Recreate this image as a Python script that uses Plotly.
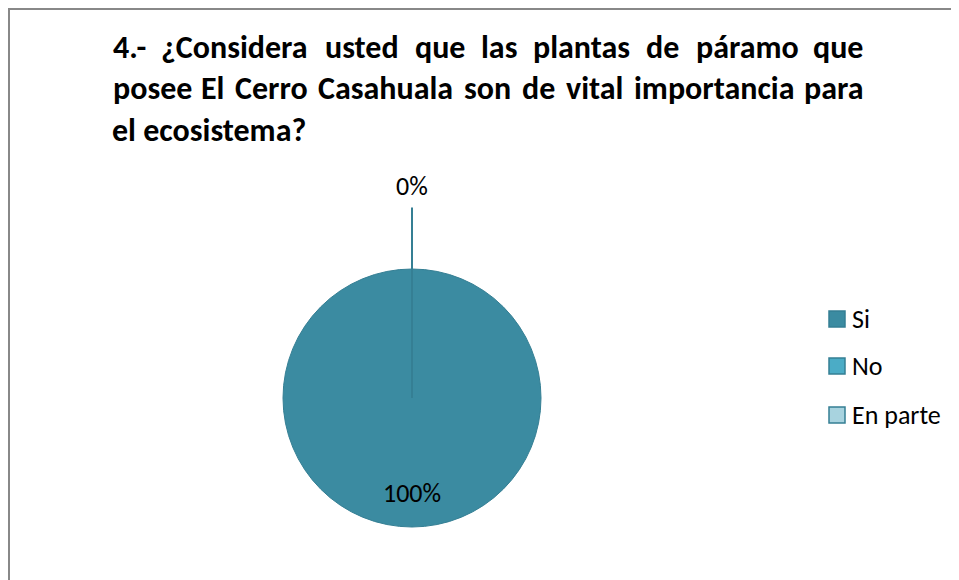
import math
import struct
import subprocess
import glob
import plotly.graph_objects as go

# ---- data ----
categories = ["Si", "No", "En parte"]
values = [100, 0, 0]
colors = ["#3B8BA1", "#4BACC6", "#A8D3DF"]
title_lines = [
    "4.- ¿Considera usted que las plantas de páramo que",
    "posee El Cerro Casahuala son de vital importancia para",
    "el ecosistema?",
]

# page offset (browser body margin) -> work in screenshot pixels
OFF = 8
W, H = 959 - OFF, 580 - OFF
def px(x):
    return (x - OFF) / W
def py(y):
    return (H - (y - OFF)) / H

# pie geometry (layout)
cx, cy, r = 412, 398, 129
FONT = "Carlito, Calibri, 'Liberation Sans Narrow', 'DejaVu Sans Condensed', 'Open Sans', sans-serif"
TITLE_SIZE = 32


# ---------- text measuring (for justified title lines) ----------
def find_font_file():
    try:
        out = subprocess.run(["fc-match", "-f", "%{file}", "Carlito:weight=bold"],
                             capture_output=True, text=True, timeout=5).stdout.strip()
        if out:
            return out
    except Exception:
        pass
    for pat in ["/usr/share/fonts/**/Carlito-Bold.ttf", "/usr/local/share/fonts/**/Carlito-Bold.ttf"]:
        hits = glob.glob(pat, recursive=True)
        if hits:
            return hits[0]
    return None


def load_metrics(path):
    data = open(path, "rb").read()
    if data[:4] == b"ttcf":
        first = struct.unpack(">I", data[12:16])[0]
        base = first
    else:
        base = 0
    num = struct.unpack(">H", data[base + 4:base + 6])[0]
    tables = {}
    for i in range(num):
        tag, _, off, ln = struct.unpack(">4sIII", data[base + 12 + 16 * i: base + 28 + 16 * i])
        tables[tag.decode("latin1")] = off
    upem = struct.unpack(">H", data[tables["head"] + 18: tables["head"] + 20])[0]
    nhm = struct.unpack(">H", data[tables["hhea"] + 34: tables["hhea"] + 36])[0]
    hm = tables["hmtx"]
    advs = [struct.unpack(">H", data[hm + 4 * i: hm + 4 * i + 2])[0] for i in range(nhm)]
    cm = tables["cmap"]
    ncm = struct.unpack(">H", data[cm + 2: cm + 4])[0]
    sub = None
    for i in range(ncm):
        pid, eid, off = struct.unpack(">HHI", data[cm + 4 + 8 * i: cm + 12 + 8 * i])
        fmt = struct.unpack(">H", data[cm + off: cm + off + 2])[0]
        if fmt == 4 and (pid, eid) in ((3, 1), (0, 3), (0, 4)):
            sub = cm + off
            break
    segx2 = struct.unpack(">H", data[sub + 6: sub + 8])[0]
    seg = segx2 // 2
    ends = struct.unpack(">%dH" % seg, data[sub + 14: sub + 14 + segx2])
    starts = struct.unpack(">%dH" % seg, data[sub + 16 + segx2: sub + 16 + 2 * segx2])
    deltas = struct.unpack(">%dh" % seg, data[sub + 16 + 2 * segx2: sub + 16 + 3 * segx2])
    rofs_pos = sub + 16 + 3 * segx2
    rofs = struct.unpack(">%dH" % seg, data[rofs_pos: rofs_pos + segx2])

    def gid(c):
        for i in range(seg):
            if ends[i] >= c:
                if starts[i] > c:
                    return 0
                if rofs[i] == 0:
                    return (c + deltas[i]) & 0xFFFF
                addr = rofs_pos + 2 * i + rofs[i] + 2 * (c - starts[i])
                g = struct.unpack(">H", data[addr: addr + 2])[0]
                return (g + deltas[i]) & 0xFFFF if g else 0
        return 0

    def width(text, size):
        tot = 0
        for ch in text:
            g = gid(ord(ch))
            tot += advs[min(g, len(advs) - 1)]
        return tot * size / upem

    return width


measure = None
try:
    ff = find_font_file()
    if ff:
        measure = load_metrics(ff)
except Exception:
    measure = None

word_extents_fallback = [
    [(111, 162), (175, 317), (332, 398), (413, 468), (482, 517), (531, 633), (648, 680), (696, 794), (809, 865)],
    [(111, 193), (206, 229), (243, 312), (326, 440), (454, 500), (514, 547), (559, 620), (633, 788), (802, 865)],
]
JUST_L, JUST_R = 111, 865

fig = go.Figure()
fig.add_trace(go.Pie(
    labels=categories, values=values, sort=False, direction="clockwise", rotation=0,
    marker=dict(colors=colors, line=dict(color="#357F94", width=1)),
    textinfo="none", showlegend=False, hoverinfo="label+percent",
    domain=dict(x=[px(cx - r), px(cx + r)], y=[py(cy + r), py(cy - r)]),
))

annotations = []
shapes = []

# data labels
total = sum(values)
cum = 0.0
done_zero = False
for cat, v in zip(categories, values):
    frac = v / total
    mid = (cum + frac / 2) * 2 * math.pi
    cum += frac
    label = f"{frac:.0%}"
    if v > 0:
        lx = cx + 0.74 * r * math.sin(mid)
        ly = cy - 0.74 * r * math.cos(mid)
        annotations.append(dict(x=px(lx), y=py(ly), xref="paper", yref="paper",
                                text=label, showarrow=False, xanchor="center", yanchor="middle",
                                font=dict(family=FONT, size=26, color="#000000")))
    elif not done_zero:
        done_zero = True
        annotations.append(dict(x=px(cx), y=py(cy), xref="paper", yref="paper",
                                text=label, showarrow=True, arrowhead=0,
                                arrowwidth=2, arrowcolor="#357F94",
                                ax=0, ay=-(cy - 186), startstandoff=4,
                                font=dict(family=FONT, size=26, color="#000000")))

# legend (manual, to match spacing)
leg_y = [319, 366, 415]
for cat, col, yy in zip(categories, colors, leg_y):
    shapes.append(dict(type="rect", xref="paper", yref="paper",
                       x0=px(829), x1=px(845), y0=py(yy + 8), y1=py(yy - 8),
                       fillcolor=col, line=dict(color="#357F94", width=1.5)))
    annotations.append(dict(x=px(850), y=py(yy), xref="paper", yref="paper",
                            text=cat, showarrow=False, xanchor="left", yanchor="middle",
                            font=dict(family=FONT, size=26, color="#000000")))

# title: first two lines justified, last line left-aligned
line_y = [48, 89, 130]
for i, line in enumerate(title_lines):
    words = line.split(" ")
    if i < 2:
        n = len(words)
        if measure is not None:
            ws = [measure(w, TITLE_SIZE) for w in words]
            gap = (JUST_R - JUST_L - sum(ws)) / (n - 1)
            xs = []
            x = JUST_L
            for wv in ws:
                xs.append((x, x + wv))
                x += wv + gap
        else:
            xs = word_extents_fallback[i]
        for j, (w, (a, b)) in enumerate(zip(words, xs)):
            if j == 0:
                x, anc = a, "left"
            elif j == n - 1:
                x, anc = b, "right"
            else:
                x, anc = (a + b) / 2, "center"
            annotations.append(dict(x=px(x), y=py(line_y[i]), xref="paper", yref="paper",
                                    text=f"<b>{w}</b>", showarrow=False, xanchor=anc, yanchor="middle",
                                    font=dict(family=FONT, size=TITLE_SIZE, color="#000000")))
    else:
        annotations.append(dict(x=px(JUST_L - 1), y=py(line_y[i]), xref="paper", yref="paper",
                                text=f"<b>{line}</b>", showarrow=False, xanchor="left", yanchor="middle",
                                font=dict(family=FONT, size=TITLE_SIZE, color="#000000")))

# chart border (left and top edges visible)
shapes.append(dict(type="line", xref="paper", yref="paper", x0=px(9), x1=px(9), y0=py(8), y1=py(H + 20),
                   line=dict(color="#888888", width=2)))
shapes.append(dict(type="line", xref="paper", yref="paper", x0=px(8), x1=px(W + 20), y0=py(9), y1=py(9),
                   line=dict(color="#888888", width=2)))

fig.update_layout(
    width=W, height=H, autosize=False,
    margin=dict(l=0, r=0, t=0, b=0),
    paper_bgcolor="#FFFFFF", plot_bgcolor="#FFFFFF",
    showlegend=False,
    annotations=annotations, shapes=shapes,
    font=dict(family=FONT),
)
fig.write_html("out.html")
